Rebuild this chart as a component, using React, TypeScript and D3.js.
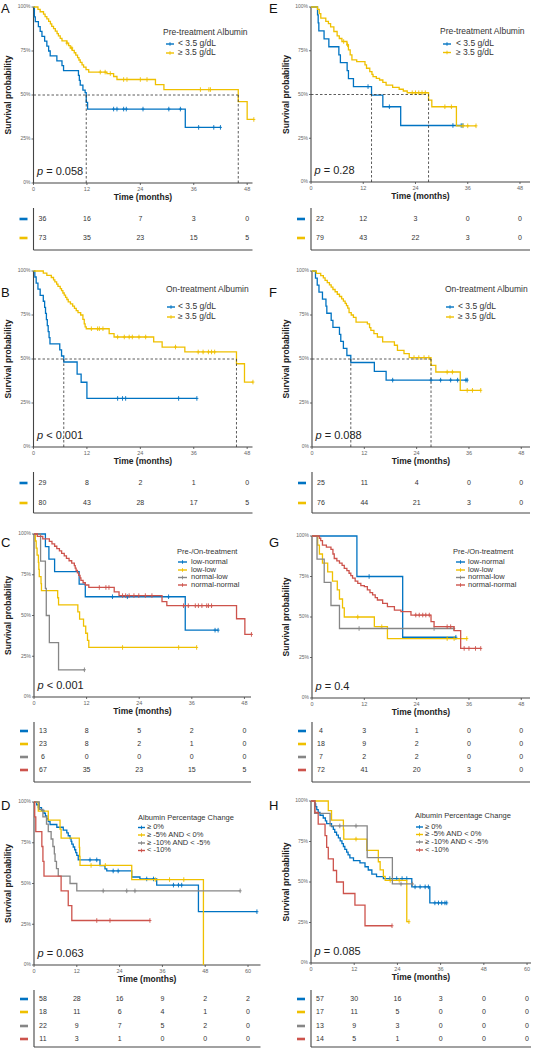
import React from "react";
import * as d3 from "d3";

type Step = [number, number];

const BLUE = "#0073C2";
const YELLOW = "#EFC000";
const GRAY = "#868686";
const RED = "#CD534C";
const FONT = "'Liberation Sans', Arial, Helvetica, sans-serif";

// ---------- tick labels ----------
const ticks48 = [0, 12, 24, 36, 48];
const ticks60 = [0, 12, 24, 36, 48, 60];
const yTicks = [0, 0.25, 0.5, 0.75, 1];
const yTickLabels = ["0%", "25%", "50%", "75%", "100%"];

// ---------- legend labels ----------
const albuminLabels = ["< 3.5 g/dL", "≥ 3.5 g/dL"];
const comboLabels = ["low-normal", "low-low", "normal-low", "normal-normal"];
const changeLabels = ["≥ 0%", "≥ -5% AND < 0%", "≥ -10% AND < -5%", "< -10%"];

// ---------- Panel A ----------
const A_low: Step[] = [[0.2,0.944],[0.4,0.917],[1.1,0.889],[1.5,0.861],[1.9,0.833],[2.5,0.806],[3.0,0.778],[3.4,0.75],[3.75,0.722],[5.25,0.694],[6.4,0.667],[6.75,0.639],[10.1,0.611],[10.3,0.583],[10.5,0.556],[11.1,0.528],[11.6,0.514],[11.85,0.458],[12.15,0.42],[34.1,0.316]];
const A_lowCens = [18, 18.75, 20.25, 20.85, 24.6, 30.4, 33, 37.1, 40.5, 42];
const A_high: Step[] = [[1.0,0.986],[1.5,0.973],[2.25,0.959],[2.6,0.945],[3.0,0.932],[3.4,0.918],[3.8,0.904],[4.1,0.89],[4.5,0.877],[4.9,0.863],[5.3,0.849],[5.6,0.836],[6.0,0.822],[6.4,0.808],[7.5,0.795],[7.9,0.781],[8.25,0.767],[8.7,0.753],[9.15,0.74],[9.5,0.726],[9.9,0.712],[10.2,0.699],[10.5,0.685],[10.9,0.671],[11.25,0.658],[11.8,0.644],[12.4,0.63],[16.5,0.622],[18.0,0.605],[18.75,0.588],[27.4,0.559],[29.3,0.531],[46.0,0.462],[48.0,0.361]];
const A_highCens = [7.5, 8.6, 15, 16.1, 17.25, 20.25, 21, 24, 25.5, 37.5, 39.4, 39.75, 49.5];
const A_risk = [[36, 16, 7, 3, 0], [73, 35, 23, 15, 5]];

// ---------- Panel E ----------
const E_low: Step[] = [[1.5,0.955],[1.65,0.909],[1.8,0.864],[3.0,0.818],[4.1,0.773],[6.4,0.727],[6.75,0.682],[8.3,0.636],[8.6,0.591],[9.75,0.545],[13.9,0.496],[16.5,0.43],[20.6,0.323]];
const E_lowCens = [13.1, 18, 32.6, 34.5, 34.9];
const E_high: Step[] = [[1.5,0.987],[1.9,0.962],[2.25,0.937],[3.4,0.918],[4.0,0.905],[4.5,0.886],[5.25,0.86],[6.0,0.835],[6.5,0.82],[7.1,0.803],[8.25,0.784],[8.6,0.755],[9.0,0.727],[9.4,0.698],[10.5,0.688],[12.4,0.669],[12.75,0.65],[13.5,0.631],[14.0,0.615],[14.25,0.602],[15.0,0.592],[15.75,0.583],[16.5,0.569],[17.25,0.554],[18.75,0.541],[20.25,0.53],[21.2,0.52],[22.1,0.51],[27.0,0.468],[27.75,0.43],[33.4,0.321]];
const E_highCens = [7.5, 8.4, 23.25, 24, 24.75, 25.5, 26.25, 30.75, 32.25, 34.9, 36, 37.9];
const E_risk = [[22, 12, 3, 0, 0], [79, 43, 22, 3, 0]];

// ---------- Panel B ----------
const B_low: Step[] = [[0.3,0.966],[0.6,0.931],[1.0,0.897],[1.5,0.862],[2.2,0.828],[2.5,0.793],[2.7,0.759],[2.9,0.724],[3.1,0.69],[3.3,0.655],[3.5,0.621],[3.7,0.586],[5.9,0.552],[6.3,0.517],[6.8,0.483],[9.8,0.414],[10.7,0.368],[12.0,0.276]];
const B_lowCens = [18.9, 20, 20.7, 32.6, 36.7];
const B_high: Step[] = [[2.2,0.988],[3.0,0.975],[4.0,0.963],[4.5,0.95],[4.8,0.938],[5.2,0.925],[5.5,0.913],[6.0,0.9],[6.3,0.888],[6.6,0.875],[6.9,0.863],[7.2,0.85],[7.5,0.838],[7.8,0.825],[8.3,0.813],[8.8,0.8],[9.2,0.788],[9.6,0.775],[10.0,0.763],[10.6,0.75],[11.1,0.725],[11.4,0.7],[11.6,0.683],[11.85,0.672],[17.0,0.644],[18.1,0.625],[27.0,0.597],[28.9,0.568],[34.0,0.54],[45.6,0.473],[47.4,0.369]];
const B_highCens = [13, 14.4, 14.8, 15.6, 18.9, 20.4, 21.5, 22.2, 23.7, 25.2, 31.9, 37, 38.1, 39.3, 40, 40.7, 49.3];
const B_risk = [[29, 8, 2, 1, 0], [80, 43, 28, 17, 5]];

// ---------- Panel F ----------
const F_low: Step[] = [[0.8,0.96],[1.2,0.92],[1.6,0.88],[2.4,0.84],[3.2,0.8],[3.4,0.76],[4.4,0.72],[4.8,0.68],[6.3,0.64],[6.6,0.6],[7.2,0.56],[8.0,0.52],[8.9,0.48],[14.3,0.43],[17.0,0.38]];
const F_lowCens = [18.5, 27.3, 29.5, 31.8, 33.4, 35.3, 35.6];
const F_high: Step[] = [[1.0,0.987],[2.0,0.974],[2.6,0.961],[3.0,0.947],[3.5,0.934],[4.0,0.921],[4.4,0.908],[4.8,0.895],[5.3,0.882],[5.8,0.868],[6.3,0.855],[6.8,0.842],[7.2,0.829],[7.6,0.816],[7.9,0.803],[8.2,0.789],[8.5,0.763],[9.0,0.75],[9.5,0.737],[10.1,0.71],[12.7,0.7],[13.2,0.678],[13.5,0.663],[14.2,0.644],[15.0,0.625],[16.2,0.597],[18.9,0.578],[19.6,0.549],[21.1,0.53],[22.3,0.508],[27.3,0.464],[28.4,0.426],[34.0,0.322]];
const F_highCens = [23.4, 24.5, 25.7, 26.8, 31, 32.2, 35.6, 36.8, 38.7];
const F_risk = [[25, 11, 4, 0, 0], [76, 44, 21, 3, 0]];

// ---------- Panel C ----------
const C_lowNormal: Step[] = [[2.6,0.923],[3.4,0.846],[4.7,0.769],[10.3,0.692],[11.7,0.615],[34.5,0.41]];
const C_lowNormalCens = [17.9, 21.3, 30.7, 41.3, 42];
const C_lowLow: Step[] = [[0.3,0.957],[0.5,0.913],[0.7,0.87],[1.0,0.826],[1.1,0.783],[1.2,0.739],[1.6,0.696],[1.7,0.652],[5.4,0.609],[5.6,0.565],[10.0,0.522],[10.4,0.478],[11.3,0.435],[11.8,0.391],[12.2,0.348],[12.5,0.304]];
const C_lowLowCens = [20.2, 33, 37.1];
const C_normalLow: Step[] = [[1.5,0.833],[2.6,0.667],[2.8,0.5],[3.5,0.333],[5.6,0.167]];
const C_normalLowCens = [11.5];
const C_normalNormal: Step[] = [[0.75,0.985],[2.0,0.97],[3.5,0.955],[4.1,0.94],[4.7,0.925],[5.2,0.91],[5.8,0.896],[6.3,0.881],[6.9,0.866],[7.4,0.851],[8.0,0.836],[8.6,0.821],[9.2,0.806],[9.4,0.791],[9.6,0.776],[9.9,0.761],[10.2,0.746],[10.5,0.731],[10.7,0.716],[11.2,0.701],[11.7,0.687],[12.5,0.672],[18.3,0.645],[19.4,0.622],[29.2,0.585],[30.3,0.56],[46.2,0.48],[48.1,0.384]];
const C_normalNormalCens = [14.9, 16.4, 17.1, 20.2, 20.9, 21.7, 22.8, 23.9, 25.4, 26.9, 34.1, 35.2, 36.8, 37.5, 38.3, 39.4, 39.8, 40.5, 49.6];
const C_risk = [[13, 8, 5, 2, 0], [23, 8, 2, 1, 0], [6, 0, 0, 0, 0], [67, 35, 23, 15, 5]];

// ---------- Panel G ----------
const G_lowNormal: Step[] = [[10.3,0.75],[20.8,0.375]];
const G_lowNormalCens = [13.1, 33];
const G_lowLow: Step[] = [[1.3,0.944],[1.7,0.889],[2.4,0.833],[3.6,0.778],[4.7,0.722],[5.8,0.667],[6.3,0.611],[7.0,0.556],[7.4,0.5],[14.3,0.44],[17.3,0.367]];
const G_lowLowCens = [10.5, 16, 31, 32.6, 35.5];
const G_normalLow: Step[] = [[1.15,0.857],[2.8,0.714],[4.35,0.571],[6.3,0.429]];
const G_normalLowCens = [10.8, 28, 32.5];
const G_normalNormal: Step[] = [[1.7,0.986],[2.0,0.972],[2.4,0.944],[3.3,0.931],[4.35,0.917],[4.8,0.889],[5.1,0.861],[5.7,0.847],[6.3,0.833],[6.9,0.819],[7.4,0.8],[8.0,0.786],[8.5,0.77],[8.9,0.756],[9.3,0.74],[9.9,0.722],[10.5,0.708],[11.2,0.694],[12.0,0.687],[12.7,0.667],[13.3,0.651],[13.9,0.636],[14.5,0.62],[15.0,0.605],[16.2,0.584],[17.3,0.564],[18.9,0.543],[20.4,0.533],[22.7,0.512],[27.3,0.471],[28.0,0.44],[32.6,0.416],[34.1,0.306]];
const G_normalNormalCens = [23.8, 24.6, 25.4, 26.1, 26.9, 31, 31.8, 34.9, 36, 37.5, 38.7];
const G_risk = [[4, 3, 1, 0, 0], [18, 9, 2, 0, 0], [7, 2, 2, 0, 0], [72, 41, 20, 3, 0]];

// ---------- Panel D ----------
const D_pos: Step[] = [[0.75,0.983],[1.2,0.966],[2.1,0.948],[2.8,0.931],[3.2,0.914],[3.6,0.897],[4.0,0.879],[4.5,0.862],[6.4,0.845],[8.2,0.828],[9.2,0.81],[9.6,0.793],[10.1,0.776],[10.4,0.759],[10.6,0.741],[11.0,0.724],[11.4,0.707],[11.7,0.69],[12.0,0.672],[12.4,0.645],[18.5,0.61],[19.9,0.59],[20.4,0.577],[27.4,0.54],[29.7,0.528],[34.4,0.49],[46.1,0.327]];
const D_posCens = [15.7, 17.6, 22.2, 23.6, 31.6, 33.5, 39.1, 40.5, 41.4, 62.5];
const D_m5: Step[] = [[1.2,0.944],[4.0,0.889],[7.3,0.833],[7.6,0.778],[12.7,0.722],[12.8,0.667],[12.9,0.611],[27.4,0.524],[47.5,0.0]];
const D_m5Cens = [16, 20, 34, 38, 42];
const D_m10: Step[] = [[1.5,0.955],[2.5,0.909],[3.5,0.864],[4.0,0.818],[4.8,0.773],[5.3,0.727],[5.7,0.682],[5.9,0.636],[6.3,0.591],[6.8,0.545],[10.1,0.5],[12.0,0.455]];
const D_m10Cens = [19.4, 26, 28.3, 57.8];
const D_lt10: Step[] = [[0.2,0.909],[0.5,0.818],[2.2,0.727],[2.5,0.636],[2.8,0.545],[7.6,0.455],[9.6,0.364],[10.6,0.273]];
const D_lt10Cens = [17.6, 21.3, 32.5];
const D_risk = [[58, 28, 16, 9, 2, 2], [18, 11, 6, 4, 1, 0], [22, 9, 7, 5, 2, 0], [11, 3, 1, 0, 0, 0]];

// ---------- Panel H ----------
const H_pos: Step[] = [[1.1,0.982],[1.3,0.965],[1.6,0.947],[2.0,0.93],[2.5,0.912],[3.4,0.895],[4.0,0.877],[4.35,0.86],[5.7,0.842],[6.2,0.825],[6.6,0.807],[7.1,0.789],[7.6,0.772],[8.1,0.754],[8.6,0.737],[9.0,0.719],[9.4,0.702],[9.9,0.684],[10.3,0.667],[10.8,0.649],[11.8,0.632],[13.6,0.618],[15.0,0.594],[15.9,0.574],[16.9,0.549],[18.2,0.533],[20.1,0.521],[28.0,0.47],[33.0,0.371]];
const H_posCens = [21.9, 23.8, 25.3, 26.6, 28.9, 30.3, 31.7, 32.6, 34.4, 35.4, 36.3, 37.2, 37.7];
const H_m5: Step[] = [[4.8,0.941],[5.7,0.882],[9.0,0.824],[9.1,0.765],[15.5,0.695],[18.7,0.625],[19.2,0.575],[20.1,0.535],[20.6,0.51],[26.6,0.255]];
const H_m5Cens = [12.5, 22, 24.5, 27.2];
const H_m10: Step[] = [[1.0,0.923],[5.3,0.846],[15.6,0.651],[22.6,0.488]];
const H_m10Cens = [8, 12.5, 25, 28.2];
const H_lt10: Step[] = [[1.1,0.929],[2.0,0.857],[3.9,0.786],[4.35,0.714],[4.8,0.643],[6.2,0.571],[7.1,0.5],[9.0,0.429],[12.2,0.357],[15.0,0.23]];
const H_lt10Cens = [22.5];
const H_risk = [[57, 30, 16, 3, 0, 0], [17, 11, 5, 0, 0, 0], [13, 9, 3, 0, 0, 0], [14, 5, 1, 0, 0, 0]];

// ---------- config ----------
interface Group { color: string; steps: Step[]; censors: number[] }
interface LegendCfg { tx: number; ty: number; keyX: number; keyW: number; textX: number; ys: number[]; fs: number }
interface PanelCfg {
  letter: string; lx: number; ly: number;
  x0: number; x1: number; tMax: number; yTop: number; yBot: number;
  ticks: number[]; groups: Group[]; risk: number[][]; labels: string[];
  legendTitle: string; legend: LegendCfg; p: string; median: boolean;
  rows: number[]; tableTop: number; tableBottom: number; ylabX: number;
}

const g = (color: string, steps: Step[], censors: number[]): Group => ({ color, steps, censors });

const panels: PanelCfg[] = [
  { letter: "A", lx: 1, ly: 13, x0: 33.5, x1: 252.5, tMax: 49.2, yTop: 7, yBot: 183, ticks: ticks48,
    groups: [g(BLUE, A_low, A_lowCens), g(YELLOW, A_high, A_highCens)], risk: A_risk, labels: albuminLabels,
    legendTitle: "Pre-treatment Albumin", legend: { tx: 163, ty: 33, keyX: 166, keyW: 8, textX: 178, ys: [44, 53], fs: 8.5 },
    p: "0.058", median: true, rows: [219, 238], tableTop: 208, tableBottom: 250, ylabX: 9 },
  { letter: "E", lx: 269, ly: 13, x0: 311, x1: 530, tMax: 50.3, yTop: 7, yBot: 182, ticks: ticks48,
    groups: [g(BLUE, E_low, E_lowCens), g(YELLOW, E_high, E_highCens)], risk: E_risk, labels: albuminLabels,
    legendTitle: "Pre-treatment Albumin", legend: { tx: 440, ty: 32, keyX: 443, keyW: 8, textX: 456, ys: [44, 52.5], fs: 8.5 },
    p: "0.28", median: true, rows: [219, 238], tableTop: 208, tableBottom: 250, ylabX: 287 },
  { letter: "B", lx: 1, ly: 297, x0: 33.5, x1: 252.5, tMax: 49.2, yTop: 271, yBot: 447, ticks: ticks48,
    groups: [g(BLUE, B_low, B_lowCens), g(YELLOW, B_high, B_highCens)], risk: B_risk, labels: albuminLabels,
    legendTitle: "On-treatment Albumin", legend: { tx: 166, ty: 290, keyX: 167, keyW: 8, textX: 178, ys: [307, 317], fs: 8.5 },
    p: "< 0.001", median: true, rows: [483, 503], tableTop: 472, tableBottom: 513, ylabX: 9 },
  { letter: "F", lx: 269, ly: 297, x0: 312, x1: 530, tMax: 50, yTop: 271, yBot: 447, ticks: ticks48,
    groups: [g(BLUE, F_low, F_lowCens), g(YELLOW, F_high, F_highCens)], risk: F_risk, labels: albuminLabels,
    legendTitle: "On-treatment Albumin", legend: { tx: 445, ty: 290, keyX: 446, keyW: 8, textX: 458, ys: [307, 317], fs: 8.5 },
    p: "0.088", median: true, rows: [483, 503], tableTop: 472, tableBottom: 513, ylabX: 287 },
  { letter: "C", lx: 1, ly: 547, x0: 34, x1: 251, tMax: 49.5, yTop: 534, yBot: 697, ticks: ticks48,
    groups: [g(BLUE, C_lowNormal, C_lowNormalCens), g(YELLOW, C_lowLow, C_lowLowCens), g(GRAY, C_normalLow, C_normalLowCens), g(RED, C_normalNormal, C_normalNormalCens)],
    risk: C_risk, labels: comboLabels,
    legendTitle: "Pre-/On-treatment", legend: { tx: 177, ty: 552, keyX: 178, keyW: 9, textX: 191, ys: [562, 570, 577.5, 585], fs: 7.5 },
    p: "< 0.001", median: false, rows: [731, 744, 757, 770], tableTop: 722, tableBottom: 782, ylabX: 9 },
  { letter: "G", lx: 269, ly: 547, x0: 312, x1: 530, tMax: 50, yTop: 536, yBot: 698, ticks: ticks48,
    groups: [g(BLUE, G_lowNormal, G_lowNormalCens), g(YELLOW, G_lowLow, G_lowLowCens), g(GRAY, G_normalLow, G_normalLowCens), g(RED, G_normalNormal, G_normalNormalCens)],
    risk: G_risk, labels: comboLabels,
    legendTitle: "Pre-/On-treatment", legend: { tx: 453, ty: 552, keyX: 456, keyW: 9, textX: 468, ys: [562, 570, 577.5, 585], fs: 7.5 },
    p: "0.4", median: false, rows: [731, 744, 757, 770], tableTop: 722, tableBottom: 782, ylabX: 287 },
  { letter: "D", lx: 1, ly: 810, x0: 34, x1: 260.5, tMax: 63.5, yTop: 802, yBot: 965, ticks: ticks60,
    groups: [g(BLUE, D_pos, D_posCens), g(YELLOW, D_m5, D_m5Cens), g(GRAY, D_m10, D_m10Cens), g(RED, D_lt10, D_lt10Cens)],
    risk: D_risk, labels: changeLabels,
    legendTitle: "Albumin Percentage Change", legend: { tx: 138, ty: 818, keyX: 138, keyW: 7, textX: 147, ys: [827.5, 835, 843, 850.5], fs: 7.5 },
    p: "0.063", median: false, rows: [999, 1012, 1026, 1039], tableTop: 990, tableBottom: 1047, ylabX: 9 },
  { letter: "H", lx: 269, ly: 810, x0: 311, x1: 531, tMax: 61.1, yTop: 801, yBot: 963, ticks: ticks60,
    groups: [g(BLUE, H_pos, H_posCens), g(YELLOW, H_m5, H_m5Cens), g(GRAY, H_m10, H_m10Cens), g(RED, H_lt10, H_lt10Cens)],
    risk: H_risk, labels: changeLabels,
    legendTitle: "Albumin Percentage Change", legend: { tx: 415, ty: 816, keyX: 416, keyW: 7, textX: 425, ys: [827, 834.5, 842, 850], fs: 7.5 },
    p: "0.085", median: false, rows: [999, 1012, 1026, 1039], tableTop: 990, tableBottom: 1047, ylabX: 287 },
];

function survAt(steps: Step[], t: number): number {
  let s = 1;
  for (const [st, sv] of steps) { if (st <= t) s = sv; else break; }
  return s;
}

function Panel({ cfg }: { cfg: PanelCfg }) {
  const x = d3.scaleLinear().domain([0, cfg.tMax]).range([cfg.x0, cfg.x1]);
  const y = d3.scaleLinear().domain([0, 1]).range([cfg.yBot, cfg.yTop]);
  const line = d3.line<Step>().x(d => x(d[0])).y(d => y(d[1])).curve(d3.curveStepAfter);
  const axisColor = "#444";

  const medians = cfg.median
    ? cfg.groups.map(gr => { const f = gr.steps.find(s => s[1] <= 0.5); return f ? f[0] : null; }).filter((m): m is number => m !== null)
    : [];
  const maxMed = medians.length ? Math.max(...medians) : 0;

  return (
    <g>
      <text x={cfg.lx} y={cfg.ly} fontSize={13} fontFamily={FONT} fill="#111">{cfg.letter}</text>

      {/* y axis title */}
      <text transform={`translate(${cfg.ylabX},${(cfg.yTop + cfg.yBot) / 2}) rotate(-90)`} textAnchor="middle"
        dominantBaseline="middle" fontSize={8.5} fontWeight="bold" fontFamily={FONT} fill="#222">Survival probability</text>

      {/* axes */}
      <line x1={cfg.x0} x2={cfg.x0} y1={cfg.yTop} y2={cfg.yBot} stroke={axisColor} strokeWidth={1.1} />
      <line x1={cfg.x0} x2={cfg.x1} y1={cfg.yBot} y2={cfg.yBot} stroke={axisColor} strokeWidth={1.1} />
      {yTicks.map((v, i) => (
        <g key={"yt" + i}>
          <line x1={cfg.x0 - 2} x2={cfg.x0} y1={y(v)} y2={y(v)} stroke={axisColor} strokeWidth={0.8} />
          <text x={cfg.x0 - 3} y={y(v)} textAnchor="end" dominantBaseline="middle" fontSize={5} fontFamily={FONT} fill="#666">{yTickLabels[i]}</text>
        </g>
      ))}
      {cfg.ticks.map(t => (
        <g key={"xt" + t}>
          <line x1={x(t)} x2={x(t)} y1={cfg.yBot} y2={cfg.yBot + 2} stroke={axisColor} strokeWidth={0.8} />
          <text x={x(t)} y={cfg.yBot + 7.5} textAnchor="middle" fontSize={5.5} fontFamily={FONT} fill="#666">{t}</text>
        </g>
      ))}
      <text x={(cfg.x0 + cfg.x1) / 2} y={cfg.yBot + 17} textAnchor="middle" fontSize={8.5} fontWeight="bold" fontFamily={FONT} fill="#222">Time (months)</text>

      {/* curves */}
      {cfg.groups.map((gr, i) => {
        const last = gr.steps.length ? gr.steps[gr.steps.length - 1][1] : 1;
        const end = Math.max(...gr.censors, gr.steps.length ? gr.steps[gr.steps.length - 1][0] : 0);
        const pts: Step[] = [[0, 1], ...gr.steps, [end, last]];
        return (
          <g key={"c" + i}>
            <path d={line(pts) || ""} fill="none" stroke={gr.color} strokeWidth={1.3} />
            {gr.censors.map((c, j) => {
              const cx = x(c), cy = y(survAt(gr.steps, c));
              return (
                <g key={j} stroke={gr.color} strokeWidth={0.9}>
                  <line x1={cx} x2={cx} y1={cy - 2.3} y2={cy + 2.3} />
                  <line x1={cx - 1.5} x2={cx + 1.5} y1={cy} y2={cy} />
                </g>
              );
            })}
          </g>
        );
      })}

      {/* median lines */}
      {cfg.median && (
        <g stroke="#333" strokeWidth={0.8} strokeDasharray="2.5,2">
          <line x1={x(0)} x2={x(maxMed)} y1={y(0.5)} y2={y(0.5)} />
          {medians.map((m, i) => <line key={i} x1={x(m)} x2={x(m)} y1={y(0)} y2={y(0.5)} />)}
        </g>
      )}

      {/* p value */}
      <text x={cfg.x0 + 3.5} y={cfg.yBot - 8} fontSize={11} fontFamily={FONT} fill="#222">
        <tspan fontStyle="italic">p</tspan>{" " + (cfg.p.startsWith("<") ? cfg.p : "= " + cfg.p)}
      </text>

      {/* legend */}
      <text x={cfg.legend.tx} y={cfg.legend.ty} dominantBaseline="middle" fontSize={cfg.legend.fs} fontFamily={FONT} fill="#333">{cfg.legendTitle}</text>
      {cfg.labels.map((lab, i) => {
        const ly = cfg.legend.ys[i];
        const col = cfg.groups[i].color;
        return (
          <g key={"lg" + i}>
            <line x1={cfg.legend.keyX} x2={cfg.legend.keyX + cfg.legend.keyW} y1={ly} y2={ly} stroke={col} strokeWidth={1.4} />
            <line x1={cfg.legend.keyX + cfg.legend.keyW / 2} x2={cfg.legend.keyX + cfg.legend.keyW / 2} y1={ly - 1.8} y2={ly + 1.8} stroke={col} strokeWidth={0.9} />
            <text x={cfg.legend.textX} y={ly} dominantBaseline="middle" fontSize={cfg.legend.fs} fontFamily={FONT} fill="#333">{lab}</text>
          </g>
        );
      })}

      {/* risk table */}
      <line x1={cfg.x0} x2={cfg.x0} y1={cfg.tableTop} y2={cfg.tableBottom} stroke={axisColor} strokeWidth={1.1} />
      <line x1={cfg.x0} x2={cfg.x1} y1={cfg.tableBottom} y2={cfg.tableBottom} stroke={axisColor} strokeWidth={1.1} />
      {cfg.risk.map((row, i) => (
        <g key={"r" + i}>
          <line x1={cfg.x0 - 14} x2={cfg.x0 - 6} y1={cfg.rows[i]} y2={cfg.rows[i]} stroke={cfg.groups[i].color} strokeWidth={2.6} />
          {row.map((n, j) => (
            <text key={j} x={j === 0 ? x(cfg.ticks[j]) + 9 : x(cfg.ticks[j])} y={cfg.rows[i]} textAnchor="middle"
              dominantBaseline="middle" fontSize={7} fontFamily={FONT} fill="#333">{n}</text>
          ))}
        </g>
      ))}
    </g>
  );
}

export default function App() {
  return (
    <svg width={535} height={1050} viewBox="0 0 535 1050" style={{ display: "block", position: "absolute", left: 0, top: 0, background: "#fff" }}>
      <rect x={0} y={0} width={535} height={1050} fill="#fff" />
      {panels.map(p => <Panel key={p.letter} cfg={p} />)}
    </svg>
  );
}
